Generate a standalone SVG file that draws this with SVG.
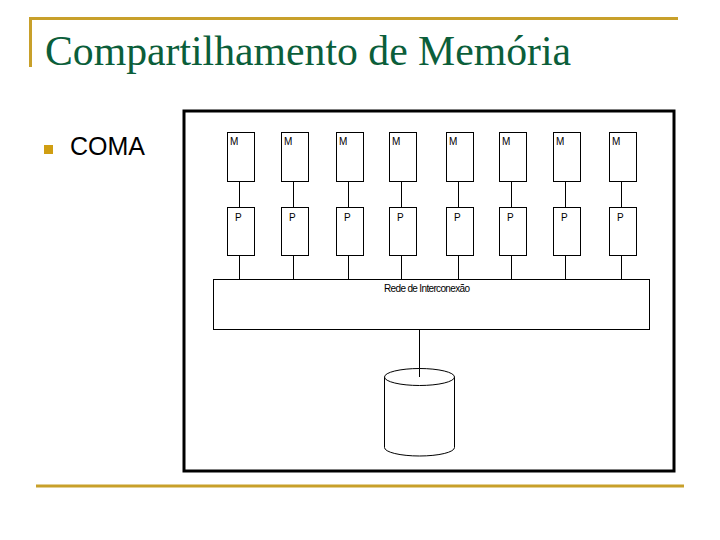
<svg xmlns="http://www.w3.org/2000/svg" width="720" height="540" viewBox="0 0 720 540">
<style>
.gold{stroke:#C8A02A;stroke-width:3;fill:none}
.box{fill:#fff;stroke:#000;stroke-width:1}
.wire{stroke:#000;stroke-width:1;fill:none}
.lbl{font-family:"Liberation Sans",Arial,sans-serif;font-size:10px;fill:#000}
</style>
<rect width="720" height="540" fill="#fff"/>
<path class="gold" d="M30.5,67 V18.5 H678"/>
<line class="gold" x1="36" y1="486" x2="684" y2="486"/>
<text x="45" y="65" font-family="'Liberation Serif','Times New Roman',serif" font-size="43" fill="#0B5E3A" textLength="526" lengthAdjust="spacingAndGlyphs">Compartilhamento de Memória</text>
<rect x="44" y="145" width="9" height="9" fill="#D09E12"/>
<text x="70" y="155" font-family="'Liberation Sans',Arial,sans-serif" font-size="25" fill="#000">COMA</text>
<rect x="184" y="111" width="490" height="360" fill="#fff" stroke="#000" stroke-width="3"/>
<g id="connectors">
<path class="wire" d="M239.5,182V207 M293.5,182V207 M348.5,182V207 M401.5,182V207 M458.5,182V207 M511.5,182V207 M565.5,182V207 M621.5,182V207"/>
<path class="wire" d="M239.5,255V279 M293.5,255V279 M348.5,255V279 M401.5,255V279 M458.5,255V279 M511.5,255V279 M565.5,255V279 M621.5,255V279"/>
<path class="wire" d="M419.5,329V377"/>
</g>
<g id="m-nodes">
<g id="m1"><rect class="box" x="227.5" y="132.5" width="27" height="49"/><text class="lbl" x="230" y="145">M</text></g>
<g id="m2"><rect class="box" x="281.5" y="132.5" width="27" height="49"/><text class="lbl" x="284" y="145">M</text></g>
<g id="m3"><rect class="box" x="336.5" y="132.5" width="27" height="49"/><text class="lbl" x="339" y="145">M</text></g>
<g id="m4"><rect class="box" x="389.5" y="132.5" width="27" height="49"/><text class="lbl" x="392" y="145">M</text></g>
<g id="m5"><rect class="box" x="446.5" y="132.5" width="27" height="49"/><text class="lbl" x="449" y="145">M</text></g>
<g id="m6"><rect class="box" x="499.5" y="132.5" width="27" height="49"/><text class="lbl" x="502" y="145">M</text></g>
<g id="m7"><rect class="box" x="553.5" y="132.5" width="27" height="49"/><text class="lbl" x="556" y="145">M</text></g>
<g id="m8"><rect class="box" x="609.5" y="132.5" width="27" height="49"/><text class="lbl" x="612" y="145">M</text></g>
</g>
<g id="p-nodes">
<g id="p1"><rect class="box" x="227.5" y="207.5" width="27" height="48"/><text class="lbl" x="235" y="221">P</text></g>
<g id="p2"><rect class="box" x="281.5" y="207.5" width="27" height="48"/><text class="lbl" x="289" y="221">P</text></g>
<g id="p3"><rect class="box" x="336.5" y="207.5" width="27" height="48"/><text class="lbl" x="344" y="221">P</text></g>
<g id="p4"><rect class="box" x="389.5" y="207.5" width="27" height="48"/><text class="lbl" x="397" y="221">P</text></g>
<g id="p5"><rect class="box" x="446.5" y="207.5" width="27" height="48"/><text class="lbl" x="454" y="221">P</text></g>
<g id="p6"><rect class="box" x="499.5" y="207.5" width="27" height="48"/><text class="lbl" x="507" y="221">P</text></g>
<g id="p7"><rect class="box" x="553.5" y="207.5" width="27" height="48"/><text class="lbl" x="561" y="221">P</text></g>
<g id="p8"><rect class="box" x="609.5" y="207.5" width="27" height="48"/><text class="lbl" x="617" y="221">P</text></g>
</g>
<g id="network">
<rect class="box" x="213.5" y="279.5" width="436" height="50"/>
<text class="lbl" x="384" y="292" font-size="9" textLength="86" lengthAdjust="spacing">Rede de Interconexão</text>
</g>
<g id="disk">
<path class="box" d="M384.5,377 V447.5 A35,8.5 0 0 0 454.5,447.5 V377"/>
<ellipse class="box" cx="419.5" cy="377" rx="35" ry="8.5"/>
<line class="wire" x1="419.5" y1="368.5" x2="419.5" y2="377"/>
</g>
</svg>
